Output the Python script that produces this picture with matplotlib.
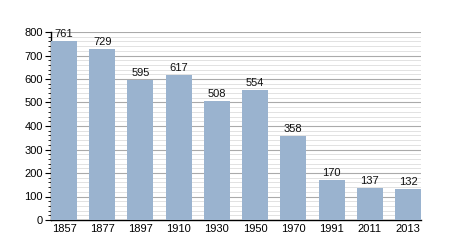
import numpy as np
import matplotlib.pyplot as plt
from matplotlib.ticker import MultipleLocator

plt.rcParams['font.family'] = ['Liberation Sans', 'DejaVu Sans']

years = ['1857', '1877', '1897', '1910', '1930', '1950', '1970', '1991', '2011', '2013']
population = [761, 729, 595, 617, 508, 554, 358, 170, 137, 132]

fig = plt.figure(figsize=(4.5, 2.5), dpi=100)
ax = fig.add_axes([0.1133, 0.12, 0.8223, 0.752])

w = 0.68
x = np.arange(len(years))
bars = ax.bar(x, population, width=w, color='#9ab3cf', zorder=3)
for xi, v in zip(x, population):
    ax.text(xi, v + 8, str(v), ha='center', va='bottom', fontsize=8, color='#111111', zorder=4)

ax.set_xlim(-w / 2, len(years) - 1 + w / 2)
ax.set_ylim(0, 800)
ax.set_xticks(x)
ax.set_xticklabels(years)
ax.yaxis.set_major_locator(MultipleLocator(100))
ax.yaxis.set_minor_locator(MultipleLocator(20))
ax.grid(axis='y', which='major', color='#aaaaaa', linewidth=0.8, zorder=0)
ax.grid(axis='y', which='minor', color='#dddddd', linewidth=0.6, zorder=0)

for s in ['top', 'right']:
    ax.spines[s].set_visible(False)
ax.spines['left'].set_linewidth(1.0)
ax.spines['bottom'].set_linewidth(1.0)
ax.tick_params(axis='x', length=0, labelsize=8, pad=3)
ax.tick_params(axis='y', which='major', length=4, labelsize=8, pad=2)
ax.tick_params(axis='y', which='minor', length=2.5)

fig.savefig('out.png', dpi=100)
